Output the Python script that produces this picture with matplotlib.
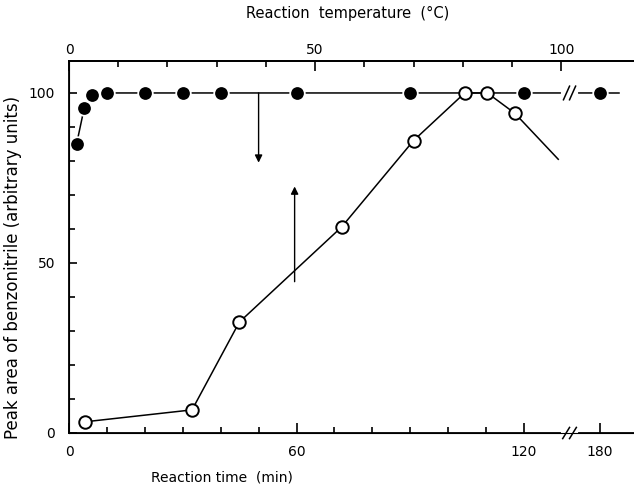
import numpy as np
import matplotlib
matplotlib.use("Agg")
import matplotlib.pyplot as plt

# ---- data ----
# filled circles: peak area vs reaction time (bottom axis, min)
time_min = [2, 4, 6, 10, 20, 30, 40, 60, 90, 120, 180]
area_vs_time = [85, 95.5, 99.5, 100, 100, 100, 100, 100, 100, 100, 100]
time_tail = [180, 185]            # line runs on past the last point
area_time_tail = [100, 100]

# open circles: peak area vs reaction temperature (top axis, degC)
temp_c = [3.3, 25, 34.6, 55.4, 70, 80.4, 85, 90.6]
area_vs_temp = [3.3, 6.8, 32.6, 60.6, 86, 100, 100, 94]
temp_tail = [90.6, 99.4]          # curve continues without a marker
area_temp_tail = [94, 80.5]

time_ticks = [0, 60, 120, 180]
time_minor = [10, 20, 30, 40, 50, 70, 80, 90, 100, 110]
temp_ticks = [0, 50, 100]
temp_minor = [10, 20, 30, 40, 60, 70, 80, 90]
area_ticks = [0, 50, 100]
area_minor = [10, 20, 30, 40, 60, 70, 80, 90]

# broken time axis: 120..180 min squeezed into 20 units
BREAK_FROM, BREAK_TO, BREAK_WIDTH = 120, 180, 20
BREAK_AT = 132                    # where the // marks sit (axis units)
K_TEMP = 1.298                    # axis units per degC on the top scale
XMAX, YMAX = 149, 109.4


def squeeze(t):
    t = np.asarray(t, float)
    return np.where(t <= BREAK_FROM, t, BREAK_FROM + BREAK_WIDTH + (t - BREAK_TO))


plt.rcParams["font.family"] = ["DejaVu Sans"]

fig = plt.figure(figsize=(6.34, 4.88), dpi=100)
ax = fig.add_axes([69 / 634, 55 / 488, 1 - 69 / 634, 372 / 488])
ax.set_xlim(0, XMAX)
ax.set_ylim(0, YMAX)
ax.spines["right"].set_visible(False)
for s in ax.spines.values():
    s.set_linewidth(1.3)

# --- time curve (filled) ---
ax.plot(squeeze(time_tail), area_time_tail, color="k", lw=1.1, zorder=2)
ax.plot(squeeze(time_min), area_vs_time, color="k", lw=1.1, marker="o", ms=10.5,
        mfc="k", mec="white", mew=1.3, zorder=3)

# --- temperature curve (open), on a twin top axis ---
ax2 = ax.twiny()
ax2.set_xlim(0, XMAX / K_TEMP)
ax2.spines["right"].set_visible(False)
ax2.spines["top"].set_linewidth(1.3)
ax2.plot(temp_tail, area_temp_tail, color="k", lw=1.1, zorder=2)
ax2.plot(temp_c, area_vs_temp, color="k", lw=1.1, marker="o", ms=9,
         mfc="white", mec="k", mew=1.4, zorder=3)

# --- ticks ---
ax.set_xticks(squeeze(time_ticks))
ax.set_xticklabels([str(t) for t in time_ticks])
ax.set_xticks(time_minor, minor=True)
ax.set_yticks(area_ticks)
ax.set_yticks(area_minor, minor=True)
ax.tick_params(axis="both", which="both", direction="in", top=False, right=False)
ax.tick_params(axis="x", which="major", length=7, width=1.2, pad=9, labelsize=10)
ax.tick_params(axis="x", which="minor", length=4, width=1.2)
ax.tick_params(axis="y", which="major", length=6, width=1.2, pad=10, labelsize=10)
ax.tick_params(axis="y", which="minor", length=4, width=1.2)

ax2.set_xticks(temp_ticks)
ax2.set_xticks(temp_minor, minor=True)
ax2.tick_params(axis="x", which="both", direction="in")
ax2.tick_params(axis="x", which="major", length=7, width=1.2, pad=3, labelsize=10)
ax2.tick_params(axis="x", which="minor", length=4, width=1.2)

# --- labels ---
ax.set_xlabel("Reaction time  (min)", fontsize=10)
ax.xaxis.set_label_coords(0.27, -0.102)
ax2.set_xlabel("Reaction  temperature  (°C)", fontsize=10.5)
ax2.xaxis.set_label_coords(0.494, 1.116)
ax.set_ylabel("Peak area of benzonitrile (arbitrary units)", fontsize=12)
ax.yaxis.set_label_coords(-0.084, 0.445)

# --- break marks on the axis and on the 100 line ---
xt = ax.get_xaxis_transform()
ax.plot([BREAK_AT - 1.6, BREAK_AT + 1.6], [0, 0], color="white", lw=3,
        transform=xt, clip_on=False, zorder=4)
for dx in (-0.9, 0.9):
    ax.plot([BREAK_AT + dx - 0.9, BREAK_AT + dx + 0.9], [-0.015, 0.015], color="k",
            lw=1.1, transform=xt, clip_on=False, zorder=5)
ax.plot([BREAK_AT - 1.8, BREAK_AT + 1.8], [100, 100], color="white", lw=3, zorder=4)
for dx in (-0.8, 0.8):
    ax.plot([BREAK_AT + dx - 0.8, BREAK_AT + dx + 0.8], [98, 102], color="k",
            lw=1.1, zorder=5)

# --- arrows pointing each curve to its axis ---
arrow = dict(arrowstyle="-|>", lw=1.0, color="k", mutation_scale=11,
             shrinkA=0, shrinkB=0)
ax.annotate("", xy=(50, 79.5), xytext=(50, 100), arrowprops=arrow)
ax.annotate("", xy=(59.5, 72.5), xytext=(59.5, 44.5), arrowprops=arrow)

fig.savefig("out.png", dpi=100)
